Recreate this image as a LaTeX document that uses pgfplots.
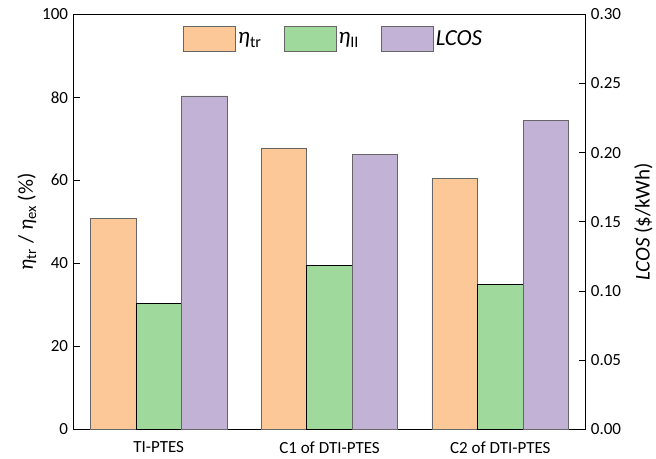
\documentclass[border=0pt]{standalone}
\usepackage{pgfplots}
\pgfplotsset{compat=1.18}
\usepackage{fontspec}
\setmainfont{Carlito}
\definecolor{corange}{HTML}{FDC897}
\definecolor{cgreen}{HTML}{A0D99C}
\definecolor{cpurple}{HTML}{C2B2D6}
\begin{document}
\fontsize{15}{18}\selectfont
\begin{tikzpicture}
\useasboundingbox (-73.3pt,-28.7pt) rectangle (582.7pt,429.3pt);
\pgfplotsset{
 every axis/.append style={
  scale only axis, width=512.4pt, height=415pt, xmin=-0.5, xmax=2.5,
  /pgf/number format/assume math mode=true,
  tick label style={font=\fontsize{17}{20}\selectfont},
  label style={font=\fontsize{21}{24}\selectfont},
  major tick length=7pt,
  tick style={line width=0.9pt,black},
  axis line style={line width=1.1pt},
  bar width=0.2667,
 },
}
\begin{axis}[ybar, ymin=0, ymax=100, ytick={0,20,40,60,80,100}, ytick pos=left,
  xtick={0,1,2}, xticklabels={TI-PTES, C1 of DTI-PTES, C2 of DTI-PTES},
  x tick style={draw=none},
  ylabel={\textit{η}\textsubscript{tr} / \textit{η}\textsubscript{ex} (\%)},
  ylabel style={at={(axis description cs:-0.0904,0.5)}, anchor=center}]
\addplot[fill=corange, draw=black!60, line width=0.8pt, bar shift=-0.2667] coordinates {(0,50.9) (1,67.8) (2,60.4)};
\addplot[fill=cgreen, draw=black, line width=0.8pt, bar shift=0] coordinates {(0,30.3) (1,39.4) (2,34.8)};
\end{axis}
\begin{axis}[ybar, ymin=0, ymax=0.3, axis y line*=right, axis x line=none,
  ytick={0,0.05,0.10,0.15,0.20,0.25,0.30},
  yticklabel style={/pgf/number format/.cd, fixed, fixed zerofill, precision=2},
  ylabel={\textit{LCOS} (\$/kWh)},
  ylabel style={at={(axis description cs:1.1125,0.5)}, anchor=center},
  legend style={at={(0.508,0.94)}, anchor=center, draw=none, fill=none,
    legend columns=3, font=\fontsize{23}{26}\selectfont,
    /tikz/every even column/.append style={column sep=20pt},
    nodes={inner sep=2pt}},
  legend image code/.code={\draw[#1] (0pt,-12.5pt) rectangle (52pt,12.5pt);}]
\addlegendimage{fill=corange, draw=black!60, line width=0.8pt}
\addlegendimage{fill=cgreen, draw=black!60, line width=0.8pt}
\addplot[fill=cpurple, draw=black!60, line width=0.8pt, bar shift=0.2667] coordinates {(0,0.241) (1,0.199) (2,0.223)};
\legend{\textit{η}\textsubscript{tr}, \textit{η}\textsubscript{II}, \textit{LCOS}}
\end{axis}
\end{tikzpicture}
\end{document}
